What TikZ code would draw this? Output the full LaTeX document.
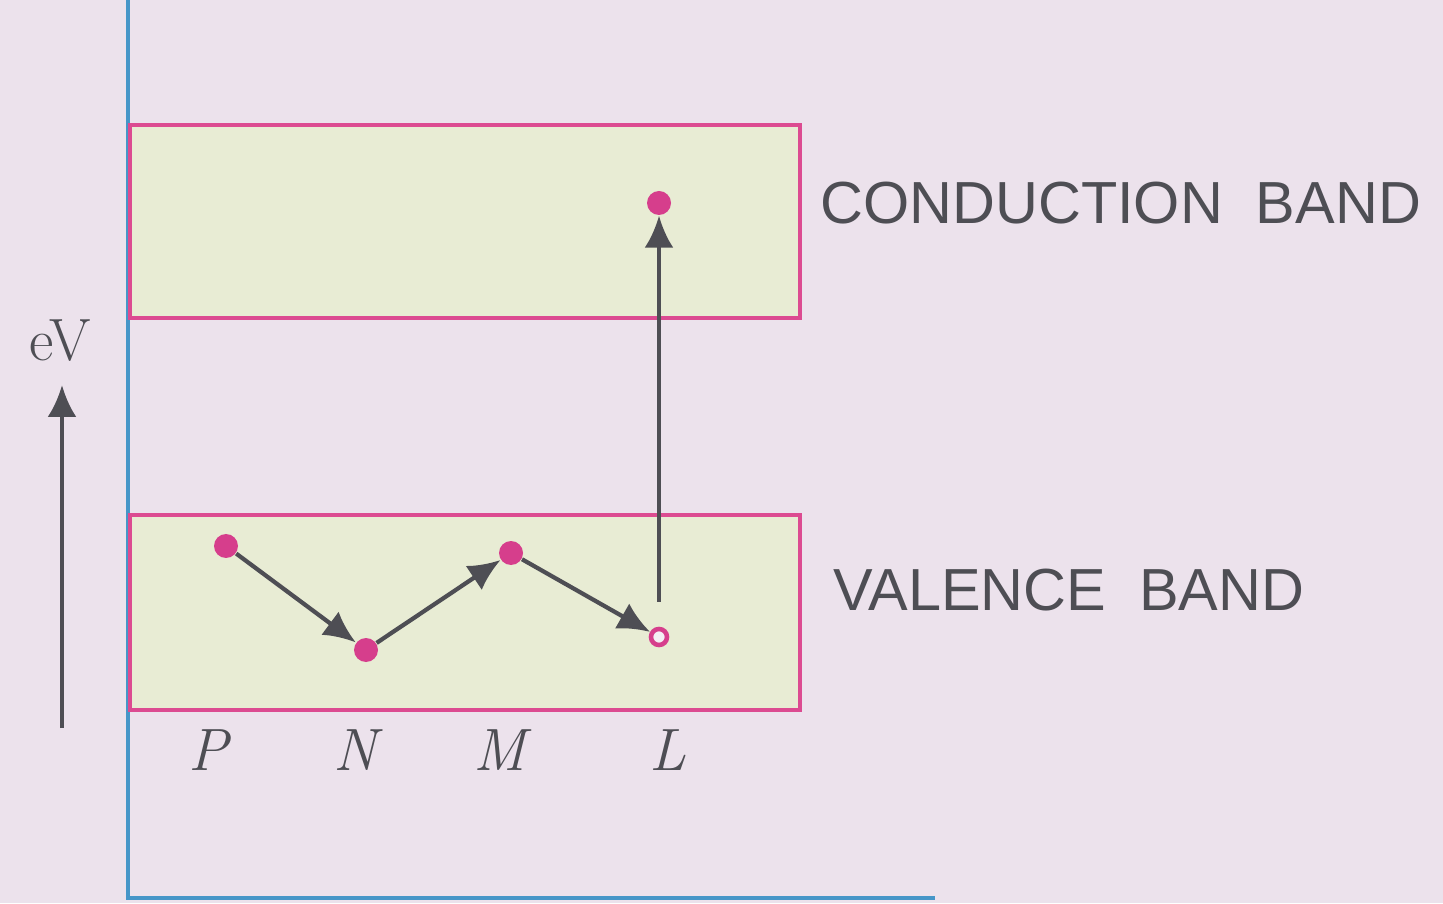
\documentclass[tikz,border=0pt]{standalone}
\usepackage{fontspec}
\newfontfamily\labelfont{Liberation Sans}
\usetikzlibrary{arrows.meta,positioning}
\definecolor{paper}{RGB}{236,226,236}
\definecolor{bandfill}{RGB}{232,236,212}
\definecolor{bandedge}{RGB}{220,75,145}
\definecolor{dotpink}{RGB}{214,62,140}
\definecolor{ink}{RGB}{78,78,84}
\definecolor{axisblue}{RGB}{70,150,200}
\tikzset{
  band/.style={draw=bandedge, line width=1pt, fill=bandfill, rectangle,
               minimum width=6.7cm, inner sep=0pt},
  electron/.style={circle, fill=dotpink, inner sep=0pt, minimum size=2.4mm},
  hole/.style={circle, draw=dotpink, line width=1.3pt, fill=paper!60!white,
               inner sep=0pt, minimum size=1.6mm},
  hop/.style={->, draw=ink, line width=1.2pt},
  bandname/.style={font=\labelfont\fontsize{16.9}{19}\selectfont, text=ink, anchor=west},
  site/.style={font=\itshape\fontsize{17}{19}\selectfont, text=ink}
}
\begin{document}
\begin{tikzpicture}[>={Latex[length=3.2mm,width=2.9mm]}]
    \fill[paper] (0,0) rectangle (14.43,9.03);
    \useasboundingbox (0,0) rectangle (14.43,9.03);
    % frame lines
    \coordinate (top) at (1.28,9.03);
    \coordinate (corner) at (1.28,0.05);
    \coordinate (end) at (9.35,0.05);
    \draw[axisblue, line width=1.2pt] (top) -- (corner) -- (end);
    % bands
    \node[band, minimum height=1.93cm] (cb) at (4.65,6.815) {};
    \node[band, minimum height=1.95cm] (vb) at (4.65,2.905) {};
    \node[bandname] (cbname) at (8.08,7.0) {CONDUCTION~~BAND};
    \node[bandname] (vbname) at (8.21,3.13) {VALENCE~~BAND};
    % energy axis
    \coordinate (ebase) at (0.62,1.75);
    \coordinate (etip) at (0.62,5.18);
    \draw[hop] (ebase) -- (etip);
    \node[font=\fontsize{17}{19}\selectfont, text=ink] (ev) at (0.6,5.62) {eV};
    % electrons and hole
    \node[electron] (p) at (2.26,3.57) {};
    \node[electron] (n) at (3.66,2.53) {};
    \node[electron] (m) at (5.11,3.50) {};
    \node[hole] (l) at (6.59,2.66) {};
    \node[electron] (c) at (6.59,7.00) {};
    \draw[hop] (p) -- (n);
    \draw[hop] (n) -- (m);
    \draw[hop] (m) -- (l);
    \draw[hop, shorten <=2.5mm] (l) -- (c);
    % site labels
    \node[site] (plabel) at (2.08,1.53) {P};
    \node[site] (nlabel) at (3.55,1.53) {N};
    \node[site] (mlabel) at (5.00,1.53) {M};
    \node[site] (llabel) at (6.68,1.53) {L};
\end{tikzpicture}
\end{document}
